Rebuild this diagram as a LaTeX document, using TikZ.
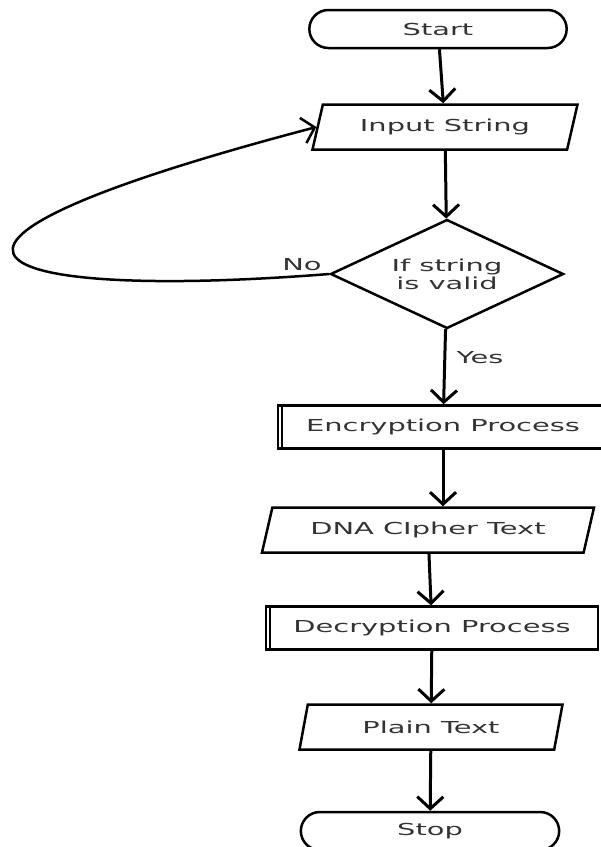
\documentclass[tikz,border=0pt]{standalone}
\usepackage{fontspec}
\newfontfamily\chartfont[FakeStretch=1.75]{DejaVu Sans}
\usetikzlibrary{shapes.geometric,shapes.misc,arrows.meta}
\definecolor{labelgray}{HTML}{333333}

\tikzset{
  terminal/.style={draw, rounded rectangle, line width=2.5pt, minimum width=264pt, minimum height=38pt},
  io/.style={draw, trapezium, trapezium left angle=57, trapezium right angle=123, trapezium stretches body, line width=2.5pt, minimum width=265pt, minimum height=45pt, inner sep=0pt},
  process/.style={draw, rectangle, line width=2.5pt, minimum height=43pt},
  decision/.style={draw, diamond, aspect=2.14, line width=2.5pt, minimum width=233pt, minimum height=109pt, inner sep=0pt, align=center},
  flow/.style={line width=3pt, -{Straight Barb[length=12pt,width=26pt]}},
  every node/.style={font=\chartfont\fontsize{16.5}{18}\selectfont, text=labelgray}
}

\begin{document}
\begin{tikzpicture}[x=1pt,y=-1pt]
                    \useasboundingbox (0,0) rectangle (601,847);
                    \clip (0,0) rectangle (601,847);

                    \node[terminal] (start) at (438,29) {Start};
                    \node[io] (input) at (445,127) {Input String};
                    \node[decision] (valid) at (447,274) {If string\\is valid};
                    \node[process, minimum width=330pt] (enc) at (443,427) {Encryption Process};
                    \node[io, minimum width=332pt] (dna) at (428,530) {DNA CIpher Text};
                    \node[process, minimum width=332pt] (dec) at (432,628) {Decryption Process};
                    \node[io, minimum width=263pt] (plain) at (431,727) {Plain Text};
                    \node[terminal, minimum width=265pt] (stop) at (430,831) {Stop};
                    \node (no) at (302,265) {No};
                    \node (yes) at (480,358) {Yes};

                    \draw[line width=2pt] ([xshift=5pt]enc.north west) -- ([xshift=5pt]enc.south west);
                    \draw[line width=2pt] ([xshift=5pt]dec.north west) -- ([xshift=5pt]dec.south west);

                    \draw[flow] (start) -- (input);
                    \draw[flow] (input) -- (valid);
                    \draw[flow] (valid) -- (enc);
                    \draw[flow] (enc.south) -- (enc.south |- dna.north);
                    \draw[flow] (dna) -- (dec);
                    \draw[flow] (dec) -- (plain);
                    \draw[flow] (plain) -- (stop);
                    \draw[flow, line width=2.5pt] (valid.west) .. controls (0,300) and (-170,255) .. (input.west);
                \end{tikzpicture}
\end{document}
